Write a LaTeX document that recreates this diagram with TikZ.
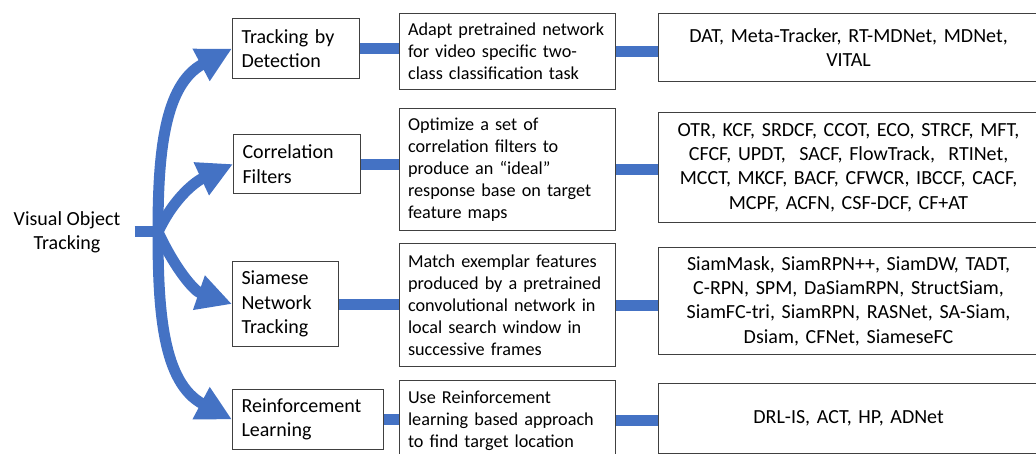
\documentclass[tikz,border=0pt]{standalone}
\usepackage{fontspec}
\setmainfont{Carlito}
\usepackage{tikz}
\usetikzlibrary{calc,arrows.meta}
\definecolor{flowblue}{HTML}{4472C4}
\definecolor{boxgray}{HTML}{404040}

\begin{document}
\begin{tikzpicture}[x=1pt,y=1pt,
    box/.style={draw=boxgray, line width=1.1pt, anchor=north west, inner ysep=1pt},
    cat/.style={box, align=left, inner xsep=9pt, font=\fontsize{20}{24.4}\selectfont},
    idea/.style={box, align=left, inner xsep=8.5pt, text width=199pt, font=\fontsize{18.2}{22}\selectfont},
    list/.style={box, align=center, inner xsep=2pt, text width=376pt, font=\fontsize{20}{24.2}\selectfont},
    flow/.style={draw=flowblue, line width=11pt},
    branch/.style={flow, -{Triangle[length=35pt,width=34pt]}}]
        \useasboundingbox (0,0) rectangle (1036,454);
        \clip (0,0) rectangle (1036,454);

        % 左侧标题
        \node[align=center, inner xsep=14pt, font=\fontsize{20}{24.4}\selectfont] (vot) at (67,222) {Visual Object\\Tracking};
        \coordinate (J) at (158,222);

        % 第一列: 方法类别
        \node[cat, text width=109pt, minimum height=60pt] (tbd) at (232,436) {Tracking by\\Detection};
        \node[cat, text width=109pt, minimum height=59pt] (cf) at (233,320) {Correlation\\Filters};
        \node[cat, text width=88pt, minimum height=85pt] (siam) at (232,193) {Siamese\\Network\\Tracking};
        \node[cat, text width=133pt, minimum height=60pt] (rl) at (232,65) {Reinforcement\\Learning};

        % 第二列: 思路
        \node[idea, minimum height=76pt] (adapt) at (399,441) {Adapt pretrained network\\for video specific two-\\class classification task};
        \node[idea, minimum height=122pt] (optim) at (399,346) {Optimize a set of\\correlation filters to\\produce an “ideal”\\response base on target\\feature maps};
        \node[idea, minimum height=123pt] (match) at (399,211) {Match exemplar features\\produced by a pretrained\\convolutional network in\\local search window in\\successive frames};
        \node[idea, minimum height=80pt] (use) at (399,74) {Use Reinforcement\\learning based approach\\to find target location};

        % 第三列: 代表方法
        \node[list, minimum height=68pt] (dat) at (658,441) {DAT, Meta-Tracker, RT-MDNet, MDNet,\\VITAL};
        \node[list, minimum height=110pt] (otr) at (658,342) {OTR, KCF, SRDCF, CCOT, ECO, STRCF, MFT,\\CFCF, UPDT, \ SACF, FlowTrack, \ RTINet,\\MCCT, MKCF, BACF, CFWCR, IBCCF, CACF,\\MCPF, ACFN, CSF-DCF, CF+AT};
        \node[list, minimum height=107pt] (siaml) at (658,207) {SiamMask, SiamRPN++, SiamDW, TADT,\\C-RPN, SPM, DaSiamRPN, StructSiam,\\SiamFC-tri, SiamRPN, RASNet, SA-Siam,\\Dsiam, CFNet, SiameseFC};
        \node[list, minimum height=70pt] (drl) at (658,71) {DRL-IS, ACT, HP, ADNet};

        % 分支箭头
        \draw[flow] (vot.east) -- (J);
        \draw[branch] (J) to[out=90, in=208] (tbd.west);
        \draw[branch] (J) to[out=65, in=205] (cf.west);
        \draw[branch] (J) to[out=-65, in=161] (siam.west);
        \draw[branch] (J) to[out=-90, in=152] (rl.west);

        % 横向连接
        \draw[flow] (tbd.east) -- (tbd.east -| adapt.west);
        \draw[flow] (cf.east) -- (cf.east -| optim.west);
        \draw[flow] (siam.east) -- (siam.east -| match.west);
        \draw[flow] (rl.east) -- (rl.east -| use.west);
        \draw[flow] (adapt.east) -- (adapt.east -| dat.west);
        \draw[flow] (optim.east) -- (optim.east -| otr.west);
        \draw[flow] (match.east) -- (match.east -| siaml.west);
        \draw[flow] (use.east) -- (use.east -| drl.west);
\end{tikzpicture}
\end{document}
